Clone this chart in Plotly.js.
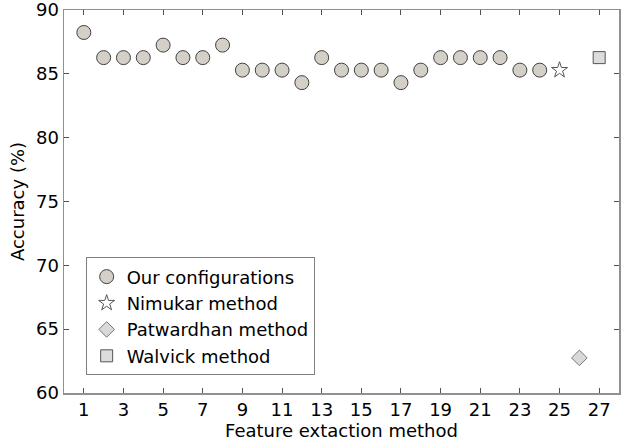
<!DOCTYPE html>
<html>
<head>
<meta charset="utf-8">
<script src="https://cdn.plot.ly/plotly-3.0.1.min.js"></script>
<style>html,body{margin:0;padding:0;background:#fff;}#chart{width:626px;height:441px;}</style>
</head>
<body>
<div id="chart"></div>
<script>
const configX = [1,2,3,4,5,6,7,8,9,10,11,12,13,14,15,16,17,18,19,20,21,22,23,24];
const configY = [88.24,86.27,86.27,86.27,87.25,86.27,86.27,87.25,85.29,85.29,85.29,84.31,86.27,85.29,85.29,85.29,84.31,85.29,86.27,86.27,86.27,86.27,85.29,85.29];
const nimukarX = [25], nimukarY = [85.29];
const patwardhanX = [26], patwardhanY = [62.75];
const walvickX = [27], walvickY = [86.27];
const xTicks = [1,3,5,7,9,11,13,15,17,19,21,23,25,27];
const yTicks = [60,65,70,75,80,85,90];

const FONT = "DejaVu Sans, sans-serif";
const traces = [
  {x: configX, y: configY, name: 'Our configurations', mode: 'markers', type: 'scatter',
   marker: {symbol: 'circle', size: 14, color: '#d4d0c8', line: {color: '#404040', width: 1}}},
  {x: nimukarX, y: nimukarY, name: 'Nimukar method', mode: 'markers', type: 'scatter',
   marker: {symbol: 'star', size: 12, color: '#ffffff', line: {color: '#555555', width: 1}}},
  {x: patwardhanX, y: patwardhanY, name: 'Patwardhan method', mode: 'markers', type: 'scatter',
   marker: {symbol: 'diamond', size: 12, color: '#d9d9d9', line: {color: '#777777', width: 1}}},
  {x: walvickX, y: walvickY, name: 'Walvick method', mode: 'markers', type: 'scatter',
   marker: {symbol: 'square', size: 12, color: '#dcdcdc', line: {color: '#555555', width: 1}}}
];
const axisCommon = {showgrid: false, zeroline: false, showline: true, linecolor: '#909090', linewidth: 1.5,
  mirror: 'ticks', ticks: 'inside', ticklen: 5, tickcolor: '#505050', tickwidth: 1,
  ticklabeloverflow: 'allow',
  tickfont: {family: FONT, size: 18, color: '#000'}};
const layout = {
  width: 626, height: 441,
  margin: {l: 64, r: 7, t: 10, b: 48},
  paper_bgcolor: '#fff', plot_bgcolor: '#fff',
  font: {family: FONT, size: 18, color: '#000'},
  xaxis: Object.assign({}, axisCommon, {range: [0, 28], tickvals: xTicks, ticktext: xTicks.map(String),
    title: {text: 'Feature extaction method', font: {family: FONT, size: 18}, standoff: 2}}),
  yaxis: Object.assign({}, axisCommon, {range: [60, 90.0001], tickvals: yTicks, ticktext: yTicks.map(String),
    title: {text: 'Accuracy (%)', font: {family: FONT, size: 18}, standoff: 6}}),
  showlegend: true,
  legend: {x: 0.039, y: 0.354, xanchor: 'left', yanchor: 'top', bgcolor: '#fff',
    bordercolor: '#808080', borderwidth: 1, font: {family: FONT, size: 18, color: '#000'}, itemwidth: 30}
};
Plotly.newPlot('chart', traces, layout, {displayModeBar: false, staticPlot: true});
</script>
</body>
</html>
